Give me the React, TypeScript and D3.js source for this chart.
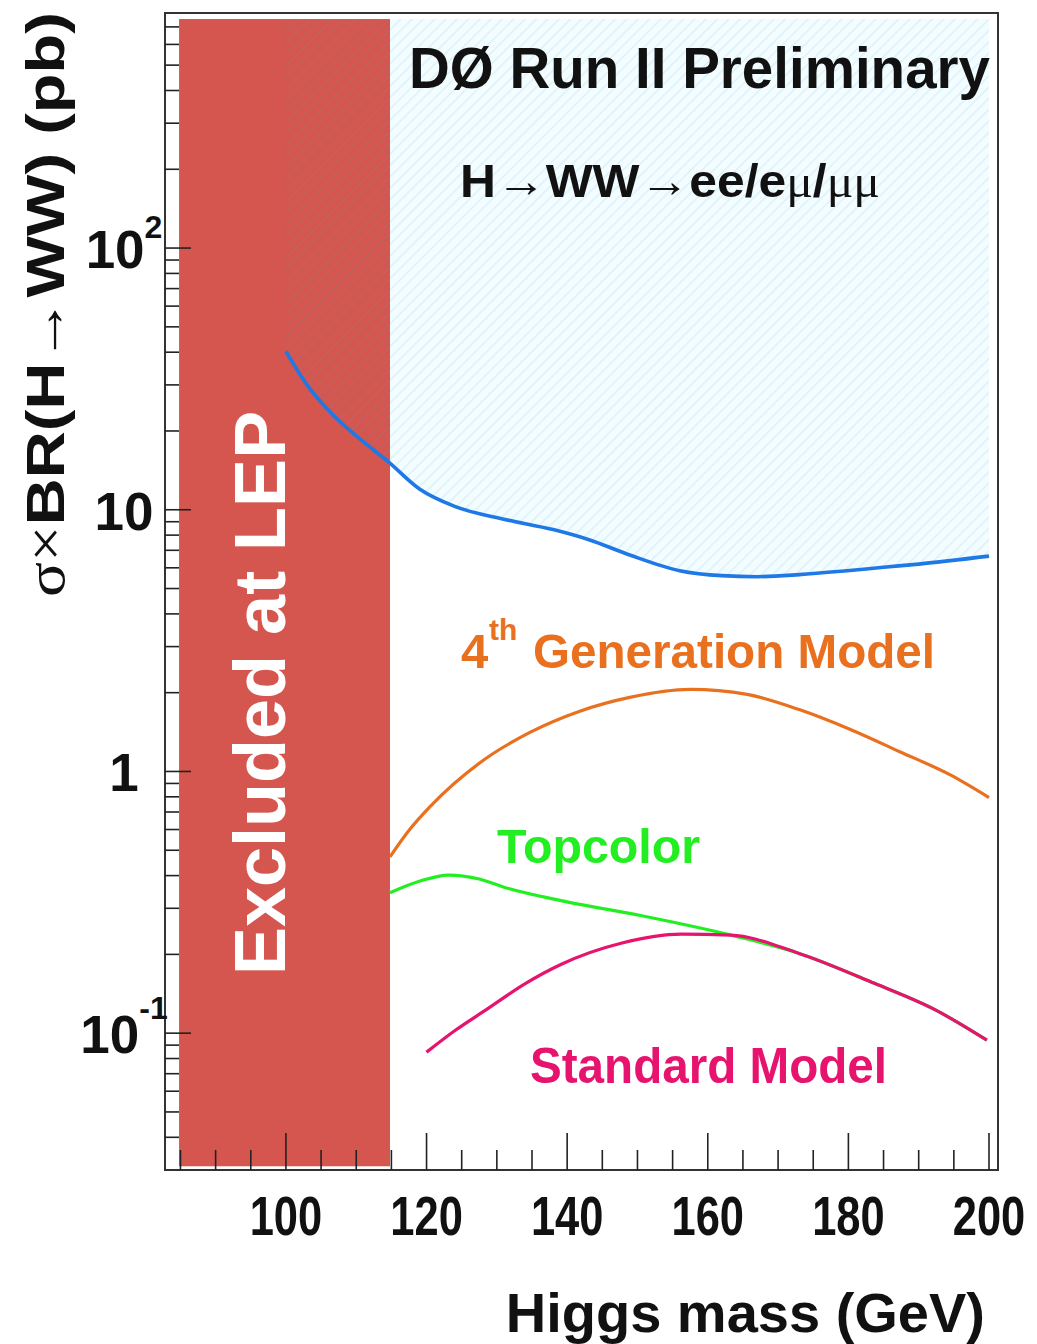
import React from "react";
import * as d3 from "d3";

const W = 1037;
const H = 1344;

// Observed 95% CL upper limit on sigma x BR(H->WW) (pb)
const limitMass = [100, 103, 107, 111, 114.5, 119, 124, 131, 138, 143, 149, 156, 162, 167, 173, 179, 185, 190, 200];
const limitXsec = [40.3, 30, 22.6, 18.2, 15.3, 12.0, 10.3, 9.2, 8.4, 7.7, 6.7, 5.85, 5.6, 5.55, 5.65, 5.82, 6.03, 6.2, 6.65];

// 4th generation model prediction
const gen4Mass = [114.8, 117.6, 120.5, 127.6, 134.7, 141.8, 148.9, 157.5, 165.6, 173.1, 180.2, 187.3, 194.5, 200];
const gen4Xsec = [0.472, 0.6, 0.734, 1.08, 1.41, 1.7, 1.92, 2.06, 1.97, 1.72, 1.45, 1.19, 0.97, 0.795];

// Topcolor prediction
const topMass = [114.8, 119.2, 123.1, 127.5, 130.9, 139.1, 150.6, 163.3, 172.7, 183.7, 192.3, 199.7];
const topXsec = [0.344, 0.382, 0.402, 0.388, 0.362, 0.321, 0.281, 0.237, 0.203, 0.155, 0.123, 0.094];

// Standard Model prediction
const smMass = [120, 124.2, 128.5, 134.1, 139.1, 147.8, 156.2, 163.3, 172.7, 183.7, 192.3, 199.7];
const smXsec = [0.0846, 0.103, 0.123, 0.155, 0.183, 0.221, 0.239, 0.237, 0.203, 0.155, 0.123, 0.094];

// Mass range excluded at LEP and vertical extent of the shaded bands
const lepMass = [84.8, 114.8];
const bandXsec = [0.031, 750];

const xMajor = [100, 120, 140, 160, 180, 200];
const xMinor = [85, 90, 95, 105, 110, 115, 125, 130, 135, 145, 150, 155, 165, 170, 175, 185, 190, 195];
const yMajor = [
  { v: 100, base: "10", exp: "2" },
  { v: 10, base: "10", exp: "" },
  { v: 1, base: "1", exp: "" },
  { v: 0.1, base: "10", exp: "-1" },
];

const BOLD = "'Liberation Sans', Arial, Helvetica, sans-serif";
const SYM = "'Liberation Serif', 'DejaVu Serif', serif";

const C_RED = "#d4564e";
const C_BLUE = "#1e78e6";
const C_ORANGE = "#e8701e";
const C_GREEN = "#22ee22";
const C_PINK = "#e6146e";

export default function App() {
  const x = d3.scaleLinear().domain([82.8, 201.28]).range([165, 998]);
  const y = d3.scaleLog().domain([0.03, 791]).range([1170, 13]);

  const line = (ms: number[], vs: number[]) =>
    d3
      .line<number>()
      .x((_, i) => x(ms[i]))
      .y((v) => y(v))
      .curve(d3.curveMonotoneX)(vs) as string;

  const band = d3
    .area<number>()
    .x((_, i) => x(limitMass[i]))
    .y0(y(bandXsec[1]))
    .y1((v) => y(v))
    .curve(d3.curveMonotoneX)(limitXsec) as string;

  const [x0, x1] = x.domain();
  const [yb, yt] = [y.range()[0], y.range()[1]];

  const yMinor: number[] = [];
  for (let e = -2; e <= 2; e++) {
    for (let k = 2; k <= 9; k++) {
      const v = k * Math.pow(10, e);
      if (v > 0.03 && v < 791) yMinor.push(v);
    }
  }

  return (
    <svg
      width={W}
      height={H}
      viewBox={`0 0 ${W} ${H}`}
      style={{ position: "absolute", left: 0, top: 0, background: "#fff" }}
    >
      <defs>
        <pattern id="hatch" patternUnits="userSpaceOnUse" width="8" height="8" patternTransform="rotate(45)">
          <line x1="0" y1="0" x2="0" y2="8" stroke="rgba(70,160,210,0.14)" strokeWidth="3" />
        </pattern>
      </defs>
      <rect x={0} y={0} width={W} height={H} fill="#fff" />

      {/* excluded region above the observed limit */}
      <path d={band} fill="#f3fdff" />
      <rect
        x={x(lepMass[0])}
        y={y(bandXsec[1])}
        width={x(lepMass[1]) - x(lepMass[0])}
        height={y(bandXsec[0]) - y(bandXsec[1])}
        fill={C_RED}
      />
      <path d={band} fill="url(#hatch)" />

      {/* model predictions and limit */}
      <path d={line(gen4Mass, gen4Xsec)} fill="none" stroke={C_ORANGE} strokeWidth={3.2} />
      <path d={line(topMass, topXsec)} fill="none" stroke={C_GREEN} strokeWidth={3.2} />
      <path d={line(smMass, smXsec)} fill="none" stroke={C_PINK} strokeWidth={3.2} />
      <path d={line(limitMass, limitXsec)} fill="none" stroke={C_BLUE} strokeWidth={3.6} />

      {/* frame */}
      <rect x={x(x0)} y={yt} width={x(x1) - x(x0)} height={yb - yt} fill="none" stroke="#333" strokeWidth={2} />

      {/* x ticks */}
      {xMajor.map((m) => (
        <line key={"xM" + m} x1={x(m)} x2={x(m)} y1={yb} y2={yb - 37} stroke="#222" strokeWidth={1.6} />
      ))}
      {xMinor.map((m) => (
        <line key={"xm" + m} x1={x(m)} x2={x(m)} y1={yb} y2={yb - 20} stroke="#222" strokeWidth={1.6} />
      ))}
      {/* y ticks */}
      {yMajor.map((t) => (
        <line key={"yM" + t.v} x1={x(x0)} x2={x(x0) + 26} y1={y(t.v)} y2={y(t.v)} stroke="#222" strokeWidth={1.6} />
      ))}
      {yMinor.map((v) => (
        <line key={"ym" + v} x1={x(x0)} x2={x(x0) + 14} y1={y(v)} y2={y(v)} stroke="#222" strokeWidth={1.6} />
      ))}

      {/* x tick labels (narrow bold digits) */}
      {xMajor.map((m) => (
        <text
          key={"xl" + m}
          transform={`translate(${x(m)},1235) scale(0.79,1)`}
          textAnchor="middle"
          fontFamily={BOLD}
          fontWeight="bold"
          fontSize={55}
          fill="#111"
        >
          {String(m)}
        </text>
      ))}

      {/* y tick labels */}
      {yMajor.map((t) => (
        <text
          key={"yl" + t.v}
          x={124}
          y={y(t.v) + 20}
          textAnchor="middle"
          fontFamily={BOLD}
          fontWeight="bold"
          fontSize={53}
          fill="#111"
        >
          {t.base}
          {t.exp ? (
            <tspan fontSize={32} dy={t.exp === "2" ? -30 : -34}>
              {t.exp}
            </tspan>
          ) : null}
        </text>
      ))}

      {/* axis titles */}
      <text x={985} y={1332} textAnchor="end" fontFamily={BOLD} fontWeight="bold" fontSize={56} fill="#111">
        Higgs mass (GeV)
      </text>
      <text
        transform="translate(64,597) rotate(-90)"
        fontFamily={BOLD}
        fontWeight="bold"
        fontSize={54}
        fill="#111"
        textLength={585}
        lengthAdjust="spacingAndGlyphs"
      >
        <tspan fontFamily={SYM} fontWeight="normal">σ×</tspan>
        <tspan>BR(H</tspan>
        <tspan fontFamily={SYM} fontWeight="normal">→</tspan>
        <tspan>WW) (pb)</tspan>
      </text>

      {/* annotations */}
      <text
        x={409}
        y={88}
        fontFamily={BOLD}
        fontWeight="bold"
        fontSize={57}
        fill="#111"
        textLength={581}
        lengthAdjust="spacingAndGlyphs"
      >
        DØ Run II Preliminary
      </text>
      <text
        x={460}
        y={197}
        fontFamily={BOLD}
        fontWeight="bold"
        fontSize={47}
        fill="#111"
        textLength={420}
        lengthAdjust="spacingAndGlyphs"
      >
        <tspan>H</tspan>
        <tspan fontFamily={SYM} fontWeight="normal">→</tspan>
        <tspan>WW</tspan>
        <tspan fontFamily={SYM} fontWeight="normal">→</tspan>
        <tspan>ee/e</tspan>
        <tspan fontFamily={SYM} fontWeight="normal">μ</tspan>
        <tspan>/</tspan>
        <tspan fontFamily={SYM} fontWeight="normal">μμ</tspan>
      </text>
      <text
        transform={`translate(${x(lepMass[0]) + 106},975) rotate(-90)`}
        fontFamily={BOLD}
        fontWeight="bold"
        fontSize={72}
        fill="#fff"
      >
        Excluded at LEP
      </text>

      <text x={461} y={668} fontFamily={BOLD} fontWeight="bold" fontSize={49} fill={C_ORANGE}>
        4
      </text>
      <text x={489} y={640} fontFamily={BOLD} fontWeight="bold" fontSize={30} fill={C_ORANGE}>
        th
      </text>
      <text
        x={533}
        y={668}
        fontFamily={BOLD}
        fontWeight="bold"
        fontSize={49}
        fill={C_ORANGE}
        textLength={402}
        lengthAdjust="spacingAndGlyphs"
      >
        Generation Model
      </text>
      <text
        x={497}
        y={863}
        fontFamily={BOLD}
        fontWeight="bold"
        fontSize={49}
        fill={C_GREEN}
        textLength={203}
        lengthAdjust="spacingAndGlyphs"
      >
        Topcolor
      </text>
      <text
        x={530}
        y={1083}
        fontFamily={BOLD}
        fontWeight="bold"
        fontSize={50}
        fill={C_PINK}
        textLength={357}
        lengthAdjust="spacingAndGlyphs"
      >
        Standard Model
      </text>
    </svg>
  );
}
